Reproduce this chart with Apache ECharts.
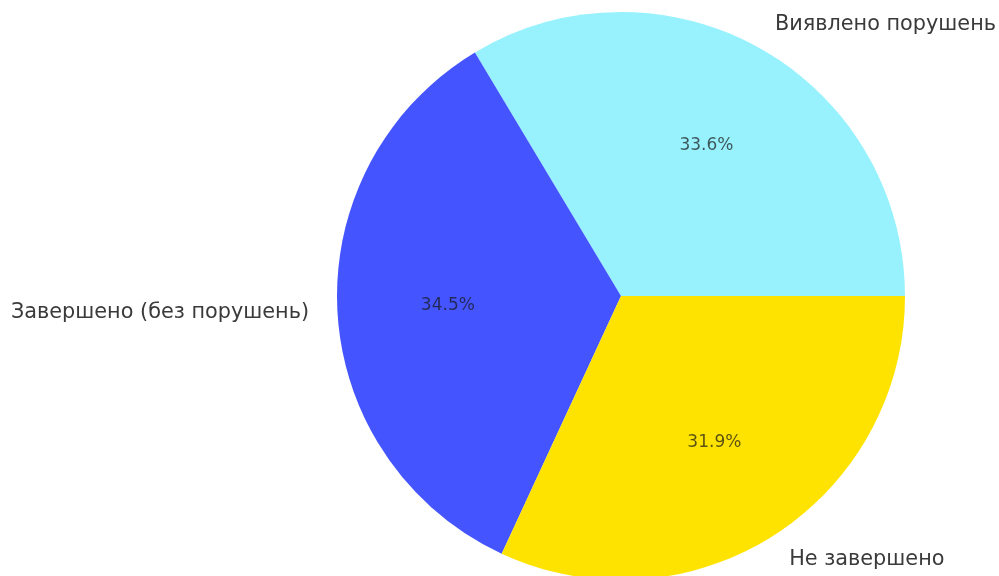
<!DOCTYPE html>
<html><head><meta charset="utf-8">
<script src="https://cdn.jsdelivr.net/npm/echarts@6/dist/echarts.min.js"></script>
<style>html,body{margin:0;padding:0;background:#fff}#c{width:999px;height:576px}</style>
</head><body><div id="c"></div>
<script>
const categories = ['Виявлено порушень', 'Завершено (без порушень)', 'Не завершено'];
const values = [33.6, 34.5, 31.9];
const colors = ['#98F2FD', '#4455FF', '#FFE300'];

const R = 284;
const data = categories.map((n, i) => ({ name: n, value: values[i], itemStyle: { color: colors[i] } }));
const chart = echarts.init(document.getElementById('c'), null, { renderer: 'canvas' });
chart.setOption({
  animation: false,
  backgroundColor: '#fff',
  series: [
    {
      type: 'pie',
      center: [621, 296],
      radius: [0, R],
      startAngle: 0,
      clockwise: false,
      avoidLabelOverlap: false,
      silent: true,
      data: data,
      label: {
        show: true,
        position: 'outside',
        formatter: '{b}',
        fontFamily: 'DejaVu Sans',
        fontSize: 20.8,
        color: '#3a3a3a',
        distanceToLabelLine: 0
      },
      labelLine: { show: false, length: R * 0.1, length2: 0 }
    },
    {
      type: 'pie',
      center: [621, 296],
      radius: [R * 0.2, R],
      startAngle: 0,
      clockwise: false,
      avoidLabelOverlap: false,
      silent: true,
      percentPrecision: 1,
      data: categories.map((n, i) => ({ name: n, value: values[i] })),
      itemStyle: { color: 'rgba(0,0,0,0)' },
      label: {
        show: true,
        position: 'inside',
        formatter: '{d}%',
        fontFamily: 'DejaVu Sans',
        fontSize: 17,
        color: 'rgba(25,25,25,0.72)'
      },
      labelLine: { show: false }
    }
  ]
});
</script></body></html>
